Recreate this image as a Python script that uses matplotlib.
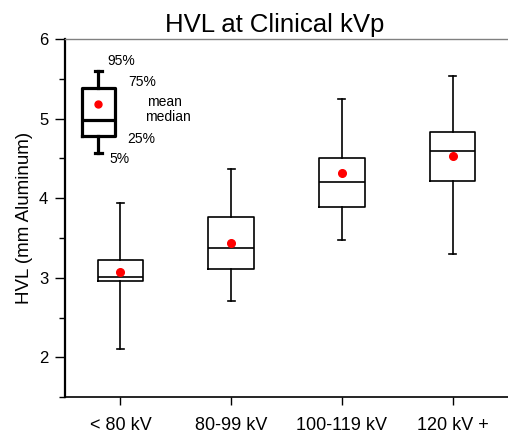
import matplotlib
matplotlib.use("Agg")
import matplotlib.pyplot as plt
from matplotlib.ticker import MultipleLocator

plt.rcParams['font.family'] = ['Liberation Sans', 'DejaVu Sans']

# data (mm Al)
groups = ['< 80 kV', '80-99 kV', '100-119 kV', '120 kV +']
p5 = [2.10, 2.71, 3.47, 3.30]
p25 = [2.96, 3.11, 3.89, 4.21]
medians = [3.01, 3.375, 4.20, 4.59]
p75 = [3.22, 3.76, 4.51, 4.83]
p95 = [3.94, 4.37, 5.25, 5.53]
means = [3.07, 3.44, 4.32, 4.53]

# key box in the upper left corner
key_vals = {'5%': 4.57, '25%': 4.78, 'median': 4.98, 'mean': 5.18, '75%': 5.38, '95%': 5.60}
key_pos = 0.8
key_text_x = {'95%': 0.88, '75%': 1.07, 'mean': 1.24, 'median': 1.22, '25%': 1.065, '5%': 0.90}
key_text_y = {'95%': 5.73, '75%': 5.46, 'mean': 5.21, 'median': 5.02, '25%': 4.74, '5%': 4.49}

fig = plt.figure(figsize=(5.08, 4.34), dpi=100)
ax = fig.add_axes([0.128, 0.085, 0.872, 0.825])

stats = []
for i in range(len(groups)):
    stats.append({'whislo': p5[i], 'q1': p25[i], 'med': medians[i], 'q3': p75[i],
                  'whishi': p95[i], 'mean': means[i], 'fliers': []})
positions = list(range(1, len(groups) + 1))

mean_style = dict(marker='o', markerfacecolor='red', markeredgecolor='red', markersize=5.5)
ax.bxp(stats, positions=positions, widths=0.41, showmeans=True, meanprops=mean_style,
       boxprops=dict(color='black', linewidth=1.2),
       medianprops=dict(color='black', linewidth=1.2),
       whiskerprops=dict(color='black', linewidth=1.2),
       capprops=dict(color='black', linewidth=1.2), capwidths=0.065)

key_stats = [{'whislo': key_vals['5%'], 'q1': key_vals['25%'], 'med': key_vals['median'],
              'q3': key_vals['75%'], 'whishi': key_vals['95%'], 'mean': key_vals['mean'],
              'fliers': []}]
ax.bxp(key_stats, positions=[key_pos], widths=0.30, showmeans=True,
       meanprops=dict(mean_style, markersize=5),
       boxprops=dict(color='black', linewidth=2.3),
       medianprops=dict(color='black', linewidth=2.3),
       whiskerprops=dict(color='black', linewidth=2.3),
       capprops=dict(color='black', linewidth=2.3), capwidths=0.06)
for lab in key_vals:
    ax.text(key_text_x[lab], key_text_y[lab], lab, fontsize=10, va='center', ha='left')

ax.set_xlim(0.5, 4.5)
ax.set_ylim(1.5, 6)
ax.set_xticks(positions)
ax.set_xticklabels(groups, fontsize=13)
ax.yaxis.set_major_locator(MultipleLocator(1))
ax.yaxis.set_minor_locator(MultipleLocator(0.5))
ax.tick_params(axis='y', which='major', labelsize=12, length=7, width=1, pad=5)
ax.tick_params(axis='y', which='minor', length=4, width=1)
ax.tick_params(axis='x', length=6, width=1, pad=8)
ax.set_yticks([2, 3, 4, 5, 6])

ax.spines['right'].set_visible(False)
ax.spines['top'].set_color('#808080')
ax.spines['top'].set_linewidth(1)
ax.spines['left'].set_linewidth(1.6)
ax.spines['bottom'].set_linewidth(1.2)

ax.set_ylabel('HVL (mm Aluminum)', fontsize=13.5, labelpad=4)
fig.text(0.54, 0.926, 'HVL at Clinical kVp', fontsize=18.5, ha='center', va='baseline')

fig.savefig('out.png', dpi=100)
